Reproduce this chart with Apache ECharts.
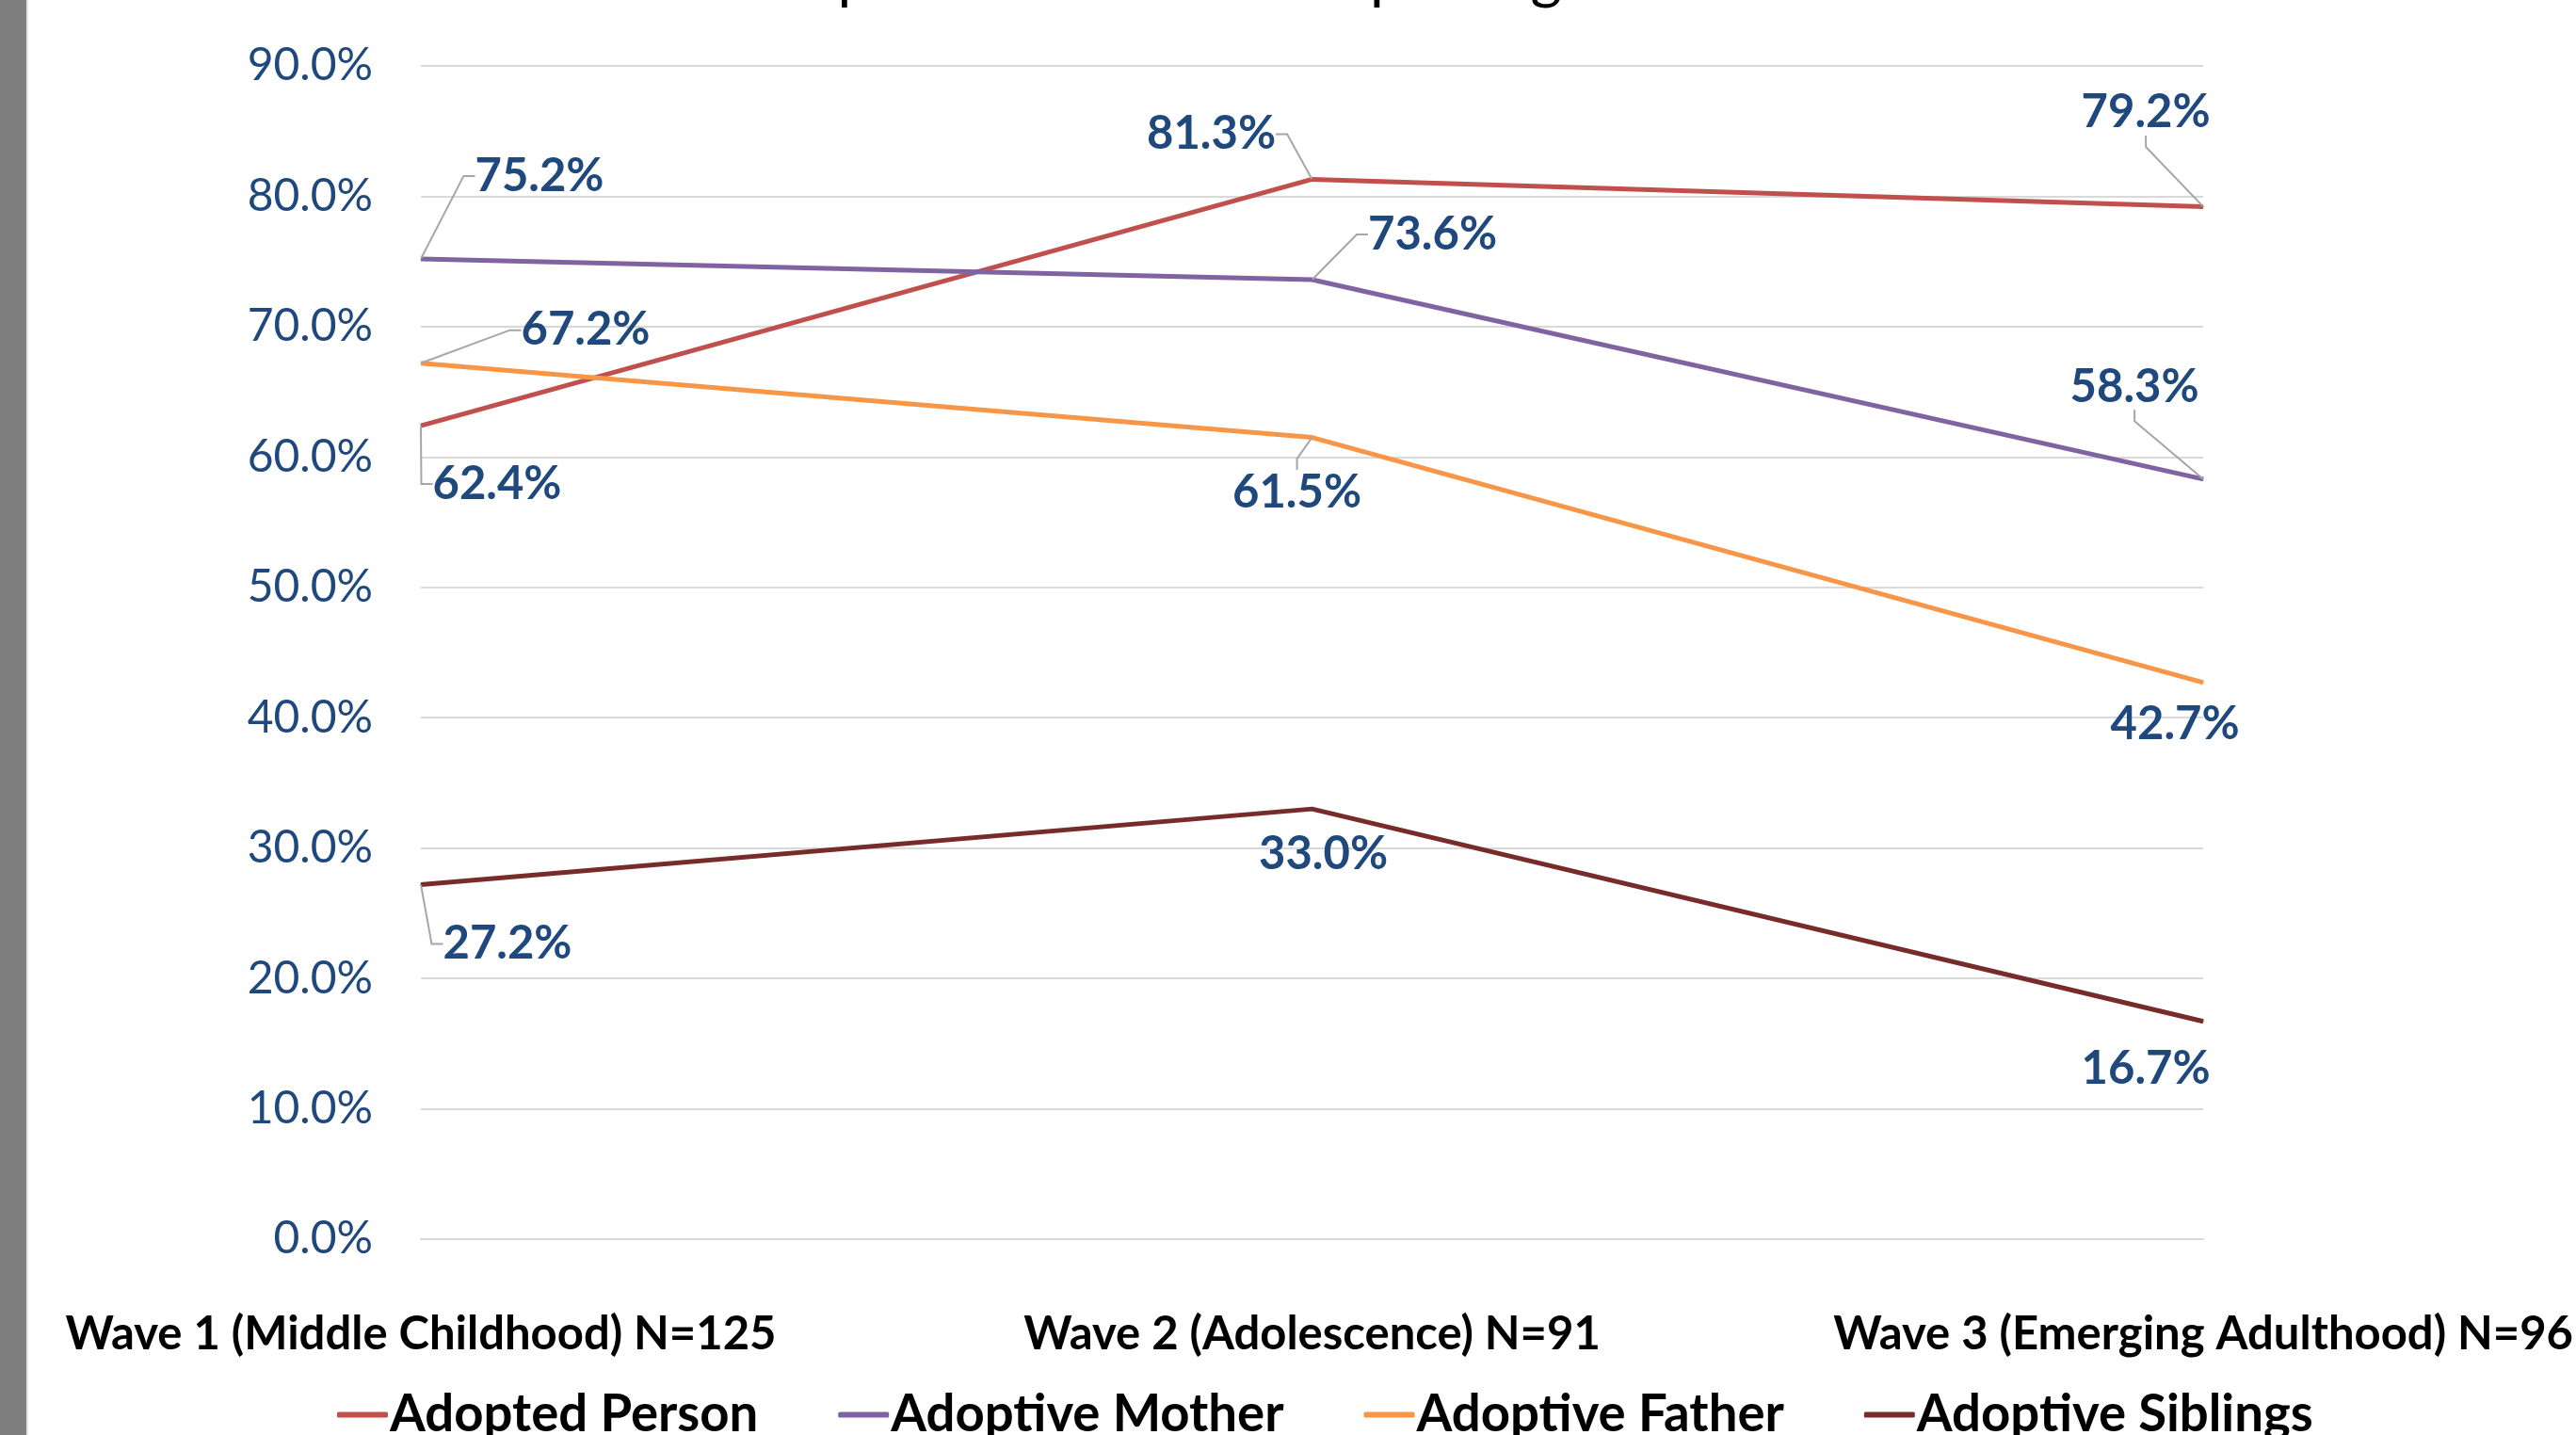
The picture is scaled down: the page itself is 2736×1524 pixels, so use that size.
<!DOCTYPE html>
<html>
<head>
<meta charset="utf-8">
<script src="https://cdn.jsdelivr.net/npm/echarts@6/dist/echarts.min.js"></script>
<style>
html, body { margin: 0; padding: 0; background: #ffffff; }
#chart { position: absolute; left: 0; top: 0; width: 2736px; height: 1524px; }
#side { position: absolute; left: 0; top: 0; width: 28px; height: 1524px; background: #7f7f7f; border-right: 2px solid #e3e3e3; }
</style>
</head>
<body>
<div id="chart"></div>
<div id="side"></div>
<script>
// ---- data ----
const categories = [
  'Wave 1 (Middle Childhood) N=125',
  'Wave 2 (Adolescence) N=91',
  'Wave 3 (Emerging Adulthood) N=96'
];
const seriesNames = ['Adopted Person', 'Adoptive Mother', 'Adoptive Father', 'Adoptive Siblings'];
const adoptedPerson   = [62.4, 81.3, 79.2];
const adoptiveMother  = [75.2, 73.6, 58.3];
const adoptiveFather  = [67.2, 61.5, 42.7];
const adoptiveSiblings = [27.2, 33.0, 16.7];
const yMin = 0, yMax = 90, yStep = 10;
const titleText = 'Openness: Percent Reporting Contact';

// ---- layout / style (not data) ----
const colors = ['#c0504d', '#8064a2', '#f79646', '#772c2a'];
// label offsets from each point (dx, dy) in px
const labelOffsets = [
  [[81, 62], [-107, -48], [-61, -100]],
  [[126, -88], [128, -48], [-73, -98]],
  [[175, -35], [-16, 59], [-30, 44]],
  [[92, 63], [12, 48], [-61, 50]]
];
const showLeader = [
  [true, true, true],
  [true, true, true],
  [true, true, false],
  [true, false, false]
];

const FONT = 'Lato';
const allValues = [adoptedPerson, adoptiveMother, adoptiveFather, adoptiveSiblings];

const chart = echarts.init(document.getElementById('chart'), null, { renderer: 'canvas' });

const series = allValues.map((vals, si) => ({
  name: seriesNames[si],
  type: 'line',
  data: vals.map((v, di) => ({
    value: v,
    labelLine: { show: showLeader[si][di] }
  })),
  symbol: 'circle',
  symbolSize: 1,
  showSymbol: true,
  lineStyle: { color: colors[si], width: 5 },
  itemStyle: { color: colors[si] },
  label: {
    show: true,
    position: 'inside',
    formatter: p => p.value.toFixed(1) + '%',
    color: '#1f497d',
    fontFamily: FONT,
    fontWeight: 'bold',
    fontSize: 49
  },
  labelLine: {
    show: true,
    length2: 12,
    lineStyle: { color: '#a6a6a6', width: 2 }
  },
  labelLayout: function (params) {
    const o = labelOffsets[params.seriesIndex][params.dataIndex];
    return { dx: o[0], dy: o[1] };
  },
  emphasis: { disabled: true },
  z: 2
}));

chart.setOption({
  animation: false,
  backgroundColor: 'transparent',
  color: colors,
  title: {
    text: titleText,
    left: 'center',
    top: -61,
    textStyle: { fontFamily: FONT, fontSize: 64, fontWeight: 'normal', color: '#000000' }
  },
  grid: { left: 447, right: 389, top: 70, bottom: 208, containLabel: false },
  legend: {
    data: seriesNames,
    left: 358,
    top: 1475,
    padding: 0,
    itemGap: 85,
    itemWidth: 54,
    itemHeight: 6,
    icon: 'roundRect',
    textStyle: { fontFamily: FONT, fontSize: 54.5, fontWeight: 'bold', color: '#000000', padding: [0, 0, 0, -3] }
  },
  xAxis: {
    type: 'category',
    data: categories,
    boundaryGap: false,
    axisLine: { show: true, lineStyle: { color: '#d9d9d9', width: 2 } },
    axisTick: { show: false },
    axisLabel: {
      interval: 0,
      margin: 77,
      fontFamily: FONT,
      fontSize: 49,
      fontWeight: 'bold',
      color: '#000000'
    },
    splitLine: { show: false }
  },
  yAxis: {
    type: 'value',
    min: yMin,
    max: yMax,
    interval: yStep,
    axisLine: { show: false },
    axisTick: { show: false },
    axisLabel: {
      margin: 51,
      fontFamily: FONT,
      fontSize: 48,
      color: '#1f497d',
      formatter: v => v.toFixed(1) + '%'
    },
    splitLine: { show: true, lineStyle: { color: '#d9d9d9', width: 2 } }
  },
  series: series
});
</script>
</body>
</html>
